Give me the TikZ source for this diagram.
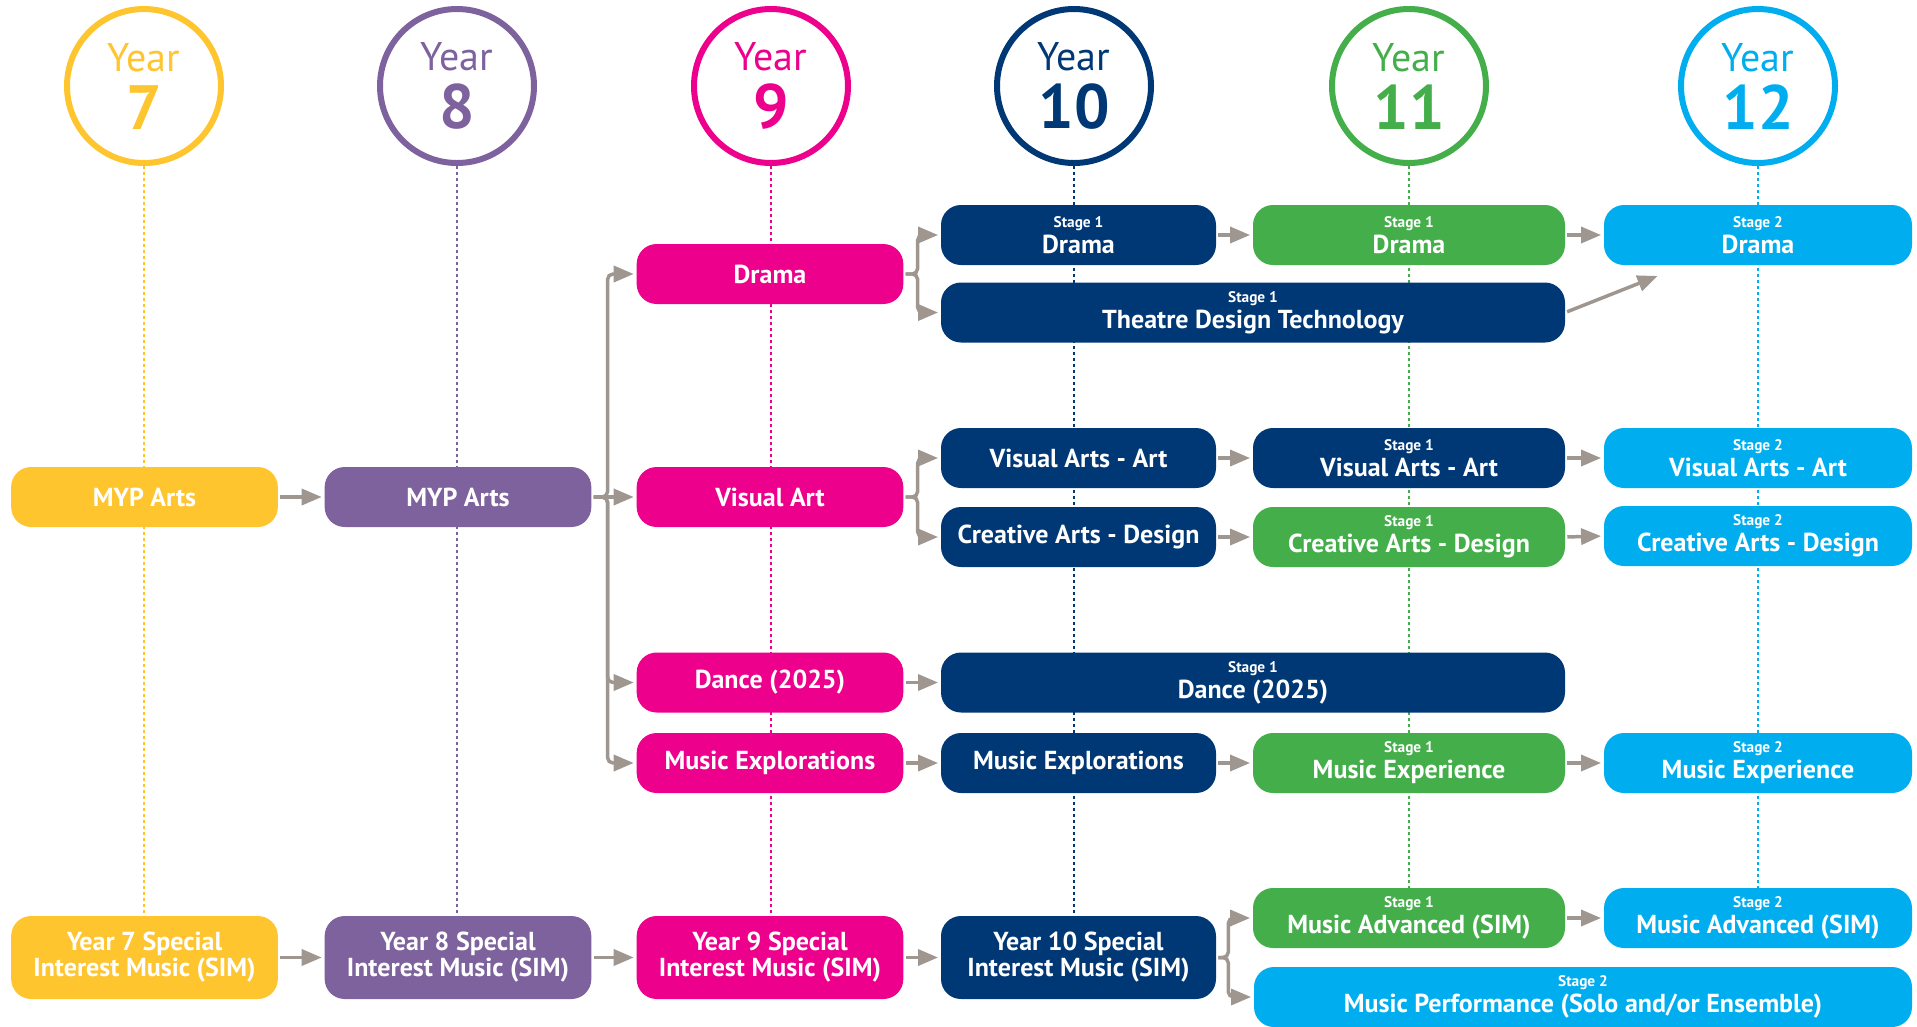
\documentclass[tikz,border=0pt]{standalone}
\usepackage{fontspec}
\setmainfont{PT Sans}
\usepackage{xcolor}
\usetikzlibrary{arrows.meta}

\definecolor{yrseven}{RGB}{255,197,46}
\definecolor{yreight}{RGB}{125,98,158}
\definecolor{yrnine}{RGB}{236,0,140}
\definecolor{yrten}{RGB}{0,56,118}
\definecolor{yreleven}{RGB}{67,174,74}
\definecolor{yrtwelve}{RGB}{0,174,239}
\definecolor{arrowgrey}{RGB}{158,150,143}

\newcommand{\stagelbl}[2]{{\fontsize{11.5}{11.5}\selectfont Stage #1}\\#2}

\tikzset{
  ring/.style={circle, draw=#1, text=#1, line width=4.5pt, minimum size=115.5pt,
    inner sep=0pt, align=center, font=\fontsize{30}{43.5}\selectfont},
  guide/.style={draw=#1, line width=1.5pt, dash pattern=on 2.25pt off 2.25pt},
  box/.style={rounded corners=15pt, fill=#1, text=white, align=center,
    minimum height=45pt, inner sep=0pt, font=\bfseries\fontsize{19.5}{19.5}\selectfont},
  colnarrow/.style={minimum width=200pt},
  colten/.style={minimum width=206.25pt},
  coleleven/.style={minimum width=234pt},
  coltwelve/.style={minimum width=231pt},
  colwide/.style={minimum width=468pt},
  colperf/.style={minimum width=493.5pt},
  tall/.style={minimum height=62.25pt},
  arr/.style={draw=arrowgrey, line width=2.6pt, -{Triangle[length=15pt,width=12pt]},
    shorten >=2pt, shorten <=1.5pt},
  bracket/.style={arr, rounded corners=4pt}
}

\begin{document}
\begin{tikzpicture}[x=0.75pt,y=0.75pt,yscale=-1,xscale=1]

\useasboundingbox (0,0) rectangle (1917,1026);

\node[ring=yrseven] (yr7) at (144,86) {Year\\{\bfseries\fontsize{47}{47}\selectfont 7}};
\node[ring=yreight] (yr8) at (457,86) {Year\\{\bfseries\fontsize{47}{47}\selectfont 8}};
\node[ring=yrnine] (yr9) at (771,86) {Year\\{\bfseries\fontsize{47}{47}\selectfont 9}};
\node[ring=yrten] (yr10) at (1074,86) {Year\\{\bfseries\fontsize{47}{47}\selectfont 10}};
\node[ring=yreleven] (yr11) at (1409,86) {Year\\{\bfseries\fontsize{47}{47}\selectfont 11}};
\node[ring=yrtwelve] (yr12) at (1758,86) {Year\\{\bfseries\fontsize{47}{47}\selectfont 12}};

\foreach \yr/\col in {yr7/yrseven, yr8/yreight, yr9/yrnine, yr10/yrten, yr11/yreleven, yr12/yrtwelve}
  \draw[guide=\col] (\yr.south) -- ++(0,750);

\node[box=yrseven, colnarrow] (myp7) at (144.5,497) {MYP Arts};
\node[box=yrseven, colnarrow, tall] (sim7) at (144.5,957.5) {Year 7 Special\\Interest Music (SIM)};

\node[box=yreight, colnarrow] (myp8) at (458,497) {MYP Arts};
\node[box=yreight, colnarrow, tall] (sim8) at (458,957.5) {Year 8 Special\\Interest Music (SIM)};

\node[box=yrnine, colnarrow] (drama9) at (770,274) {Drama};
\node[box=yrnine, colnarrow] (visual9) at (770,497) {Visual Art};
\node[box=yrnine, colnarrow] (dance9) at (770,682.5) {Dance (2025)};
\node[box=yrnine, colnarrow] (music9) at (770,763) {Music Explorations};
\node[box=yrnine, colnarrow, tall] (sim9) at (770,957.5) {Year 9 Special\\Interest Music (SIM)};

\node[box=yrten, colten] (drama10) at (1078.5,235) {\stagelbl{1}{Drama}};
\node[box=yrten, colwide] (tdt10) at (1253,312.5) {\stagelbl{1}{Theatre Design Technology}};
\node[box=yrten, colten] (vaa10) at (1078.5,458) {Visual Arts - Art};
\node[box=yrten, colten] (cad10) at (1078.5,537) {Creative Arts - Design};
\node[box=yrten, colwide] (dance10) at (1253,682.5) {\stagelbl{1}{Dance (2025)}};
\node[box=yrten, colten] (music10) at (1078.5,763) {Music Explorations};
\node[box=yrten, colten, tall] (sim10) at (1078.5,957.5) {Year 10 Special\\Interest Music (SIM)};

\node[box=yreleven, coleleven] (drama11) at (1409,235) {\stagelbl{1}{Drama}};
\node[box=yrten, coleleven] (vaa11) at (1409,458) {\stagelbl{1}{Visual Arts - Art}};
\node[box=yreleven, coleleven] (cad11) at (1409,537) {\stagelbl{1}{Creative Arts - Design}};
\node[box=yreleven, coleleven] (music11) at (1409,763) {\stagelbl{1}{Music Experience}};
\node[box=yreleven, coleleven] (adv11) at (1409,918) {\stagelbl{1}{Music Advanced (SIM)}};

\node[box=yrtwelve, coltwelve] (drama12) at (1758,235) {\stagelbl{2}{Drama}};
\node[box=yrtwelve, coltwelve] (vaa12) at (1758,458) {\stagelbl{2}{Visual Arts - Art}};
\node[box=yrtwelve, coltwelve] (cad12) at (1758,536) {\stagelbl{2}{Creative Arts - Design}};
\node[box=yrtwelve, coltwelve] (music12) at (1758,763) {\stagelbl{2}{Music Experience}};
\node[box=yrtwelve, coltwelve] (adv12) at (1758,918) {\stagelbl{2}{Music Advanced (SIM)}};
\node[box=yrtwelve, colperf] (perf12) at (1583,997) {\stagelbl{2}{Music Performance (Solo and/or Ensemble)}};

\coordinate (tdtend) at (1660,275);

\foreach \a/\b in {myp7/myp8, myp8/visual9, drama10/drama11, drama11/drama12,
    vaa10/vaa11, vaa11/vaa12, cad10/cad11, cad11/cad12, dance9/dance10,
    music9/music10, music10/music11, music11/music12, adv11/adv12,
    sim7/sim8, sim8/sim9, sim9/sim10}
  \draw[arr] (\a.east) -- (\b.west);

\draw[bracket] (myp8.east) -- ++(16,0) |- (drama9.west);
\draw[bracket] (myp8.east) -- ++(16,0) |- (dance9.west);
\draw[bracket] (myp8.east) -- ++(16,0) |- (music9.west);

\draw[bracket] (drama9.east) -- ++(14,0) |- (drama10.west);
\draw[bracket] (drama9.east) -- ++(14,0) |- (tdt10.west);

\draw[bracket] (visual9.east) -- ++(14,0) |- (vaa10.west);
\draw[bracket] (visual9.east) -- ++(14,0) |- (cad10.west);

\draw[bracket] (sim10.east) -- ++(12,0) |- (adv11.west);
\draw[bracket] (sim10.east) -- ++(12,0) |- (perf12.west);

\draw[arr] (tdt10.east) -- (tdtend);

\end{tikzpicture}
\end{document}
